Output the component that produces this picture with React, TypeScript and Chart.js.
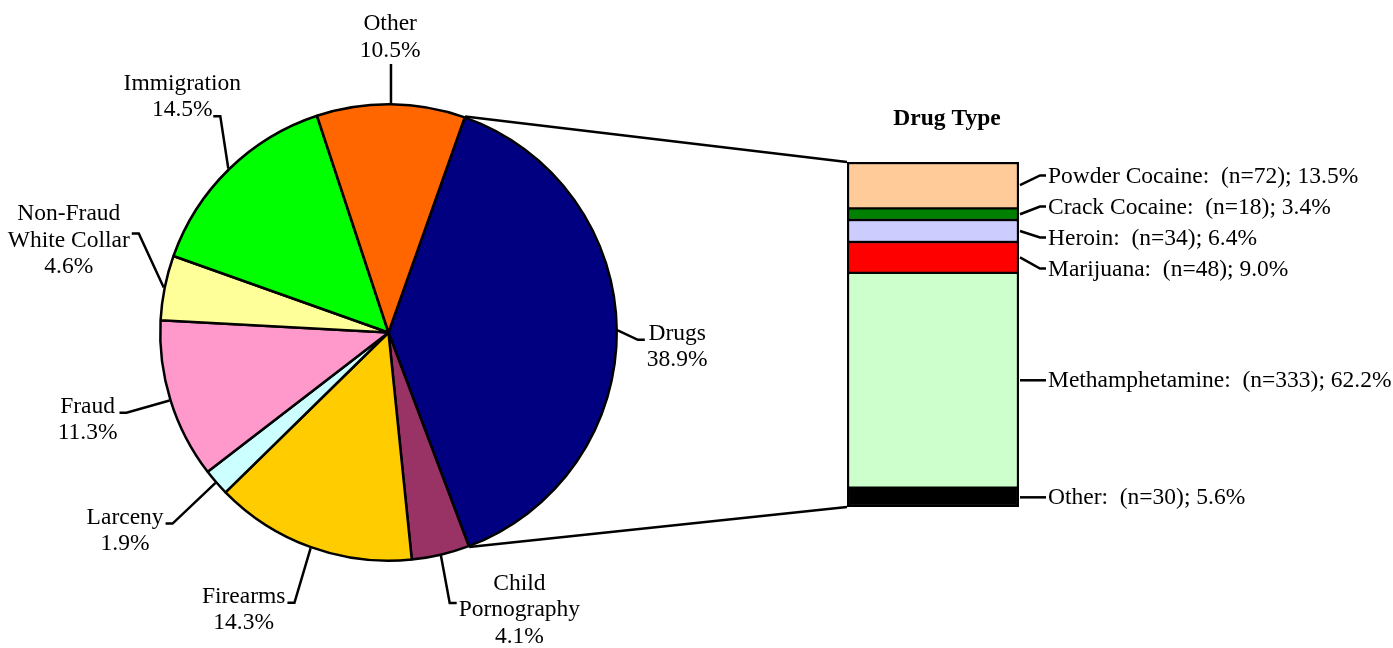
import React, { useEffect, useRef } from 'react';
import { Chart, registerables } from 'chart.js';

Chart.register(...registerables);

// ---- Pie data (clockwise from the Drugs slice) ----
const crimeTypes = ['Drugs', 'Child Pornography', 'Firearms', 'Larceny', 'Fraud', 'Non-Fraud White Collar', 'Immigration', 'Other'];
const crimeLabelLines = [['Drugs'], ['Child', 'Pornography'], ['Firearms'], ['Larceny'], ['Fraud'], ['Non-Fraud', 'White Collar'], ['Immigration'], ['Other']];
const crimePercents = [38.9, 4.1, 14.3, 1.9, 11.3, 4.6, 14.5, 10.5];
const crimeColors = ['#000080', '#993366', '#FFCC00', '#CCFFFF', '#FF99CC', '#FFFF99', '#00FF00', '#FF6600'];

// ---- Drug type breakdown (top to bottom) ----
const drugTypes = ['Powder Cocaine', 'Crack Cocaine', 'Heroin', 'Marijuana', 'Methamphetamine', 'Other'];
const drugCounts = [72, 18, 34, 48, 333, 30];
const drugColors = ['#FFCC99', '#008000', '#CCCCFF', '#FF0000', '#CCFFCC', '#000000'];

// ---- label layout (not data) ----
const pieLabelAngleNudge = [3.2, -12.1, 7.8, 4.2, 1.3, 4.9, 3.3, -0.3];
const pieLabelDistance = [289, 306, 312, 329, 313, 333, 314, 296];

const W = 1393;
const H = 648;
const FONT_FAMILY = '"Liberation Serif", "Times New Roman", serif';
const FONT = `23.5px ${FONT_FAMILY}`;
const LH = 26.5;
const LINE_W = 2.5;

function spreadLabels(ys: number[], gap: number): number[] {
  let clusters = ys.map((y) => ({ n: 1, sum: y, start: y }));
  let changed = true;
  while (changed) {
    changed = false;
    for (let i = 0; i < clusters.length - 1; i++) {
      const a = clusters[i];
      const b = clusters[i + 1];
      if (a.start + a.n * gap > b.start) {
        const n = a.n + b.n;
        const sum = a.sum + b.sum;
        clusters.splice(i, 2, { n, sum, start: sum / n - ((n - 1) * gap) / 2 });
        changed = true;
        break;
      }
    }
  }
  const out: number[] = [];
  clusters.forEach((c) => {
    for (let k = 0; k < c.n; k++) out.push(c.start + k * gap);
  });
  return out;
}

export default function App() {
  const pieRef = useRef<HTMLCanvasElement>(null);
  const barRef = useRef<HTMLCanvasElement>(null);

  useEffect(() => {
    const pieLabelsPlugin = {
      id: 'pieLabels',
      afterDraw(chart: any) {
        const ctx = chart.ctx;
        const meta = chart.getDatasetMeta(0);
        ctx.save();
        ctx.font = FONT;
        ctx.fillStyle = '#000';
        ctx.strokeStyle = '#000';
        ctx.lineWidth = LINE_W;
        ctx.textAlign = 'center';
        ctx.textBaseline = 'middle';
        meta.data.forEach((arc: any, i: number) => {
          const { x, y, startAngle, endAngle, outerRadius } = arc.getProps(['x', 'y', 'startAngle', 'endAngle', 'outerRadius'], true);
          const mid = (startAngle + endAngle) / 2;
          const px = x + (outerRadius + 1) * Math.cos(mid);
          const py = y + (outerRadius + 1) * Math.sin(mid);
          const la = mid + (pieLabelAngleNudge[i] * Math.PI) / 180;
          const lx = x + pieLabelDistance[i] * Math.cos(la);
          const ly = y + pieLabelDistance[i] * Math.sin(la);
          const lines = [...crimeLabelLines[i], crimePercents[i].toFixed(1) + '%'];
          const w = Math.max(...lines.map((t) => ctx.measureText(t).width));
          const h = lines.length * LH;
          lines.forEach((t, k) => ctx.fillText(t, lx, ly - h / 2 + LH * (k + 0.5) + 1));
          const left = lx - w / 2;
          const right = lx + w / 2;
          ctx.beginPath();
          ctx.moveTo(px, py);
          if (right + 2 < px) {
            const ay = ly - 6;
            const ax = right + 2;
            ctx.lineTo(ax + 7, ay);
            ctx.lineTo(ax, ay);
          } else if (left - 2 > px) {
            const ay = ly - 6;
            const ax = left - 2;
            ctx.lineTo(ax - 7, ay);
            ctx.lineTo(ax, ay);
          } else {
            const below = ly > py;
            if (Math.abs(px - lx) < 12) {
              ctx.lineTo(px, below ? ly - h / 2 - 2 : ly + h / 2 + 1);
            } else {
              const dir = px > lx ? -1 : 1;
              const by = below ? ly - h / 2 + 6 : ly + h / 2 - 6;
              ctx.lineTo(px + dir * 8, by);
              ctx.lineTo(px + dir * 15, by);
            }
          }
          ctx.stroke();
        });
        ctx.restore();
      },
    };

    const pieChart = new Chart(pieRef.current!, {
      type: 'pie',
      data: {
        labels: crimeTypes,
        datasets: [
          {
            data: crimePercents,
            backgroundColor: crimeColors,
            borderColor: '#000',
            borderWidth: LINE_W,
          },
        ],
      },
      options: {
        responsive: false,
        animation: false,
        events: [],
        rotation: 19.5,
        layout: { padding: { left: 159, right: 775, top: 103, bottom: 86 } },
        plugins: { legend: { display: false }, tooltip: { enabled: false } },
      },
      plugins: [pieLabelsPlugin],
    } as any);

    const total = drugCounts.reduce((a, b) => a + b, 0);

    const barDecorPlugin = {
      id: 'barDecor',
      afterDraw(chart: any) {
        const ctx = chart.ctx;
        const area = chart.chartArea;
        ctx.save();
        ctx.strokeStyle = '#000';
        ctx.fillStyle = '#000';
        ctx.lineWidth = LINE_W;

        // connector lines from the Drugs slice to the bar
        const arc: any = pieChart.getDatasetMeta(0).data[0];
        const { x, y, startAngle, endAngle, outerRadius } = arc.getProps(['x', 'y', 'startAngle', 'endAngle', 'outerRadius'], true);
        const r = outerRadius + 1;
        ctx.beginPath();
        ctx.moveTo(x + r * Math.cos(startAngle), y + r * Math.sin(startAngle));
        ctx.lineTo(area.left, area.top);
        ctx.moveTo(x + r * Math.cos(endAngle), y + r * Math.sin(endAngle));
        ctx.lineTo(area.left, area.bottom);
        ctx.stroke();

        // title
        ctx.font = `bold 23.5px ${FONT_FAMILY}`;
        ctx.textAlign = 'center';
        ctx.textBaseline = 'middle';
        ctx.fillText('Drug Type', (area.left + area.right) / 2 + 14, area.top - 43);

        // segment labels
        ctx.font = FONT;
        ctx.textAlign = 'left';
        const centers = drugTypes.map((_, i) => {
          const el: any = chart.getDatasetMeta(i).data[0];
          const p = el.getProps(['y', 'base'], true);
          return (p.y + p.base) / 2;
        });
        const labelYs = spreadLabels(centers, 31);
        drugTypes.forEach((name, i) => {
          const pct = ((drugCounts[i] / total) * 100).toFixed(1);
          const text = `${name}:  (n=${drugCounts[i]}); ${pct}%`;
          const sx = area.right + 1;
          const ly = labelYs[i];
          ctx.beginPath();
          ctx.moveTo(sx, centers[i]);
          ctx.lineTo(sx + 20, ly);
          ctx.lineTo(sx + 26, ly);
          ctx.stroke();
          ctx.fillText(text, sx + 28, ly + 1);
        });
        ctx.restore();
      },
    };

    const n = drugTypes.length;
    const barChart = new Chart(barRef.current!, {
      type: 'bar',
      data: {
        labels: ['Drug Type'],
        datasets: drugTypes.map((name, i) => ({
          label: name,
          data: [drugCounts[i]],
          backgroundColor: drugColors[i],
          borderColor: '#000',
          borderWidth: { left: 2.5, right: 2.5, top: i === 0 ? 2.5 : 1.5, bottom: i === n - 1 ? 2.5 : 1.5 },
          borderSkipped: false,
          barPercentage: 1,
          categoryPercentage: 1,
        })),
      },
      options: {
        responsive: false,
        animation: false,
        events: [],
        layout: { padding: { left: 847, right: 374, top: 162, bottom: 141 } },
        scales: {
          x: { display: false, stacked: true },
          y: { display: false, stacked: true, reverse: true, min: 0, max: total },
        },
        plugins: { legend: { display: false }, tooltip: { enabled: false } },
      },
      plugins: [barDecorPlugin],
    } as any);

    return () => {
      barChart.destroy();
      pieChart.destroy();
    };
  }, []);

  return (
    <div style={{ position: 'fixed', left: 0, top: 0, width: W, height: H, background: '#fff' }}>
      <canvas ref={pieRef} width={W} height={H} style={{ position: 'absolute', left: 0, top: 0 }} />
      <canvas ref={barRef} width={W} height={H} style={{ position: 'absolute', left: 0, top: 0 }} />
    </div>
  );
}
